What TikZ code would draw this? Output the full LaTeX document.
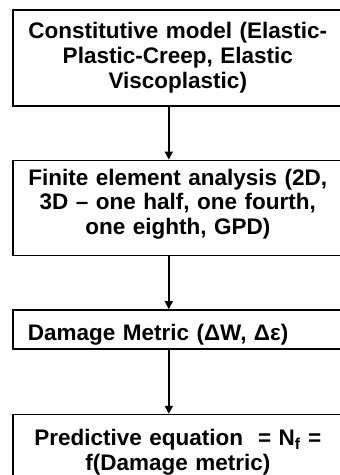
\documentclass[tikz,border=0pt]{standalone}
\usepackage{fontspec}
\setmainfont{Liberation Sans}
\usetikzlibrary{arrows.meta, positioning}
\tikzset{%
	stage/.style={draw, rectangle, line width=1.6pt, inner xsep=15pt, inner ysep=2pt,%
		text width=300pt, minimum width=330pt, align=center,%
		font=\fontsize{22.5}{24.8}\selectfont\bfseries},
	flow/.style={-{Triangle[length=8pt, width=8pt]}, line width=1.6pt}
}
\begin{document}
\begin{tikzpicture}[node distance=53pt]
		\useasboundingbox (0,0) rectangle (340pt,-475pt);
		\node[stage, minimum height=96pt, anchor=north west] (model) at (12pt,-9pt)
			{Constitutive model (Elastic-\\Plastic-Creep, Elastic\\Viscoplastic)};
		\node[stage, minimum height=95pt, text depth=62pt] (fea) [below=of model]
			{Finite element analysis (2D,\\3D -- one half, one fourth,\\one eighth, GPD)};
		\node[stage, minimum height=39pt, align=left, text height=22pt, text depth=0pt] (metric) [below=of fea]
			{Damage Metric (ΔW, Δε)};
		\node[stage, minimum height=75pt] (pred) [below=64pt of metric]
			{Predictive equation\ \ = N\textsubscript{f} =\\f(Damage metric)};
		\draw [flow] ([xshift=-9pt]model.south) to ([xshift=-9pt]fea.north);
		\draw [flow] ([xshift=-9pt]fea.south) to ([xshift=-9pt]metric.north);
		\draw [flow] ([xshift=-9pt]metric.south) to ([xshift=-9pt]pred.north);
	\end{tikzpicture}
\end{document}
